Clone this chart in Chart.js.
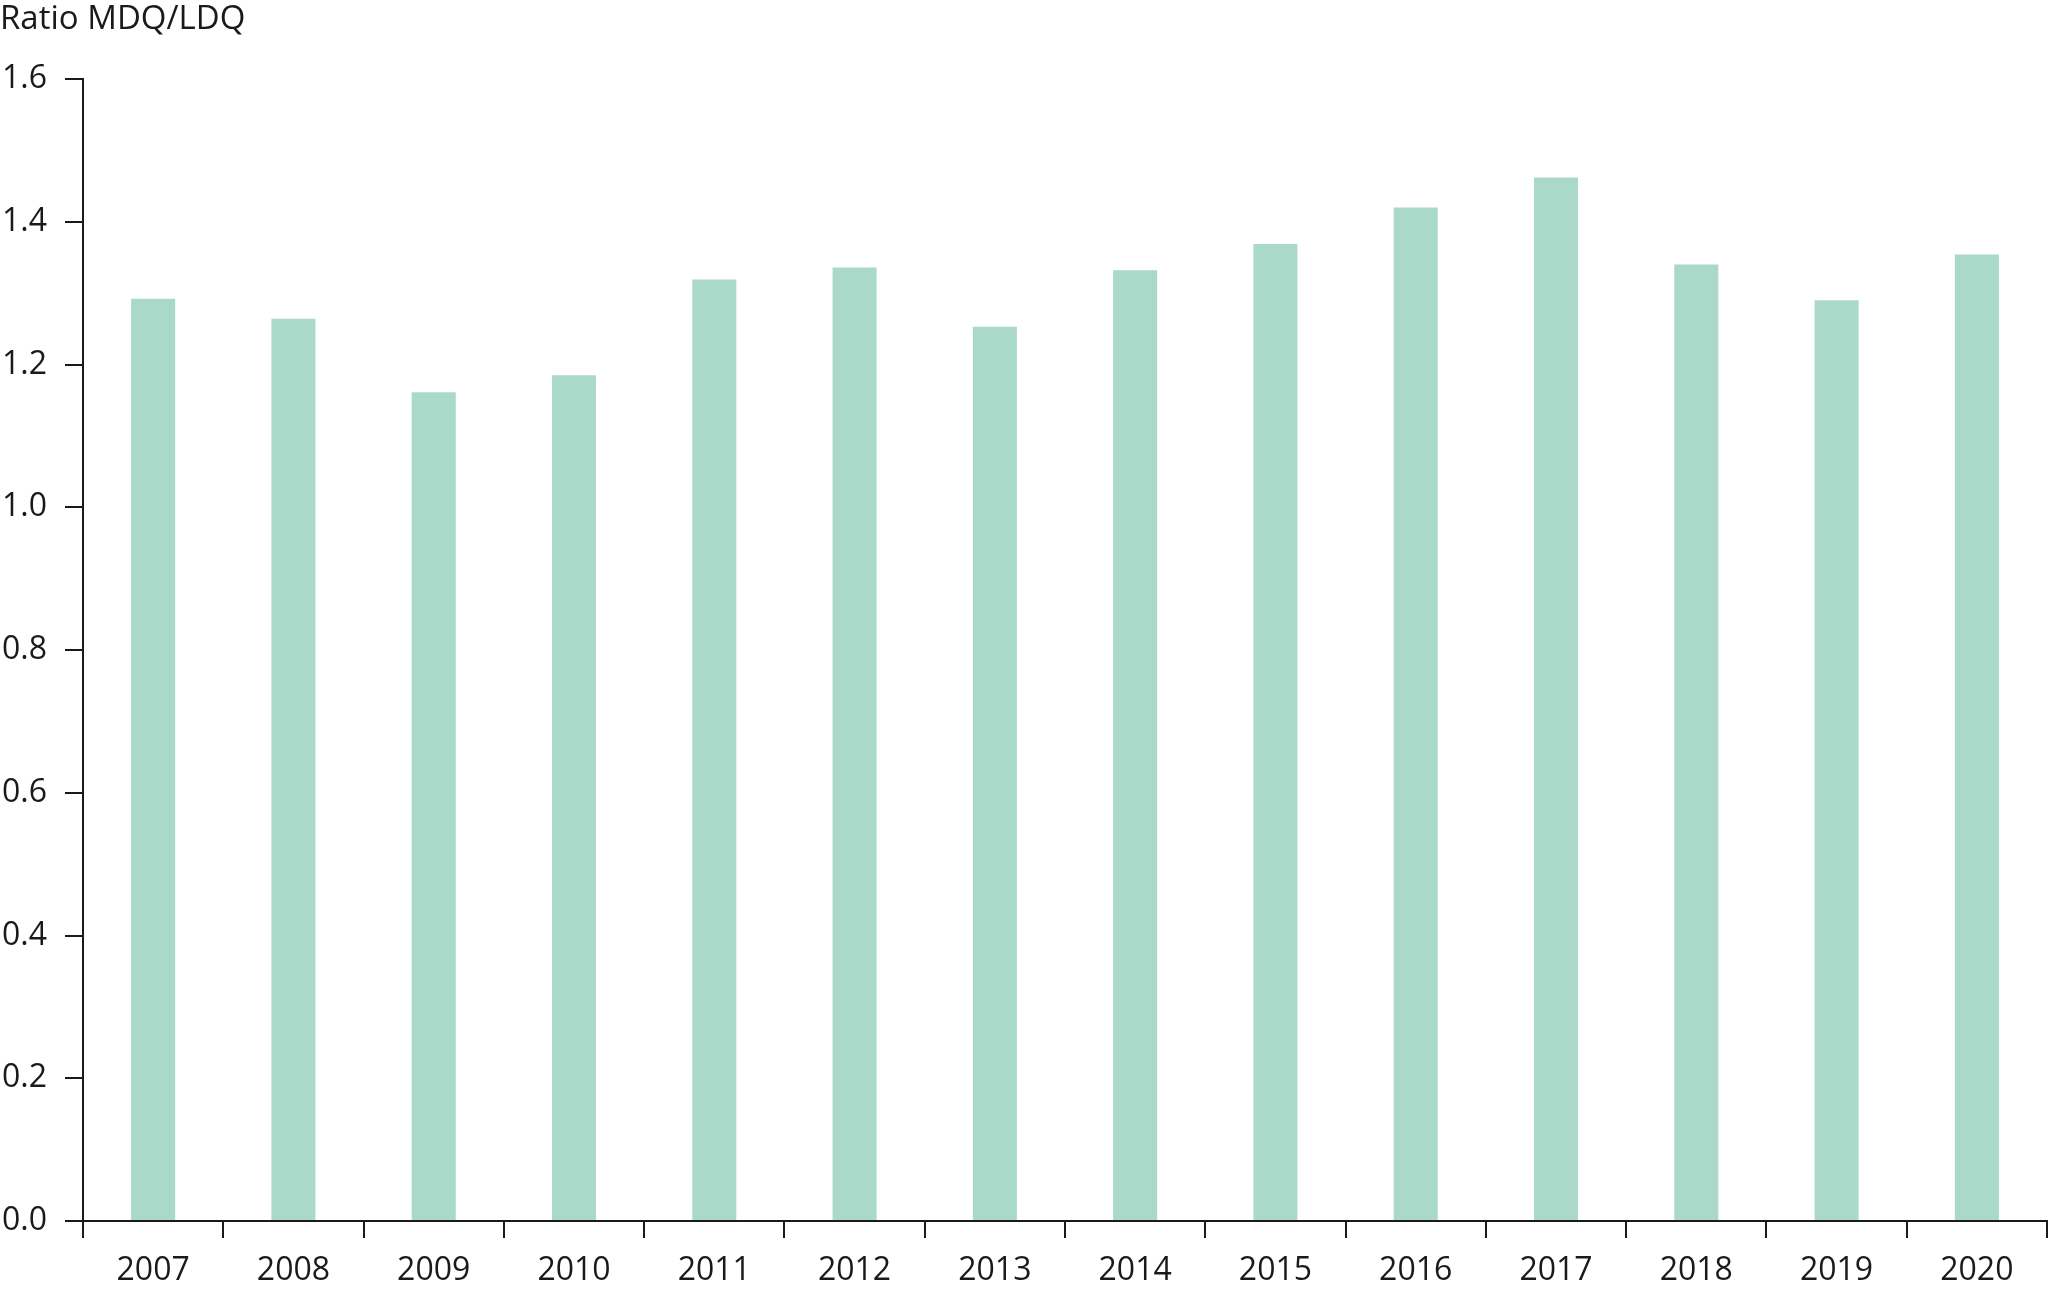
<!DOCTYPE html>
<html>
<head>
<meta charset="utf-8">
<script src="https://cdn.jsdelivr.net/npm/chart.js@4"></script>
<style>
  html, body { margin: 0; padding: 0; background: #fff; }
  canvas { display: block; }
</style>
</head>
<body>
<canvas id="chart" width="2048" height="1290"></canvas>
<script>
// Données
const years = ["2007", "2008", "2009", "2010", "2011", "2012", "2013", "2014", "2015", "2016", "2017", "2018", "2019", "2020"];
const ratio = [1.292, 1.264, 1.161, 1.185, 1.319, 1.336, 1.253, 1.332, 1.369, 1.420, 1.462, 1.340, 1.290, 1.354];
const yTicks = [0, 0.2, 0.4, 0.6, 0.8, 1.0, 1.2, 1.4, 1.6];
const axisTitle = "Ratio MDQ/LDQ";

const FONT = "'Open Sans', 'Noto Sans', sans-serif";
const INK = "#1a1a1a";

// Titre de l'axe, en haut à gauche
const titlePlugin = {
  id: "axisTitle",
  afterDraw(chart) {
    const ctx = chart.ctx;
    ctx.save();
    ctx.font = "33px " + FONT;
    ctx.fillStyle = INK;
    ctx.textAlign = "left";
    ctx.textBaseline = "alphabetic";
    ctx.fillText(axisTitle, 0, 29);
    ctx.restore();
  }
};

new Chart(document.getElementById("chart"), {
  type: "bar",
  data: {
    labels: years,
    datasets: [{
      data: ratio,
      backgroundColor: "#abd9c9",
      borderWidth: 0,
      categoryPercentage: 1,
      barPercentage: 0.314
    }]
  },
  options: {
    responsive: false,
    animation: false,
    layout: { padding: { top: 79, right: 1, left: 0, bottom: 0 } },
    plugins: { legend: { display: false }, tooltip: { enabled: false } },
    scales: {
      x: {
        offset: true,
        grid: { offset: true, drawOnChartArea: false, drawTicks: true, tickLength: 17, color: INK, lineWidth: 2 },
        border: { display: true, color: INK, width: 2 },
        ticks: { color: INK, font: { family: FONT, size: 32 }, padding: 14, maxRotation: 0 },
        afterFit(scale) { scale.height = 69; }
      },
      y: {
        min: 0,
        max: 1.6,
        afterBuildTicks(scale) { scale.ticks = yTicks.map(v => ({ value: v })); },
        grid: { drawOnChartArea: false, drawTicks: true, tickLength: 18, color: INK, lineWidth: 2 },
        border: { display: true, color: INK, width: 2 },
        ticks: {
          color: INK,
          font: { family: FONT, size: 32 },
          padding: 18,
          callback: v => v.toFixed(1)
        },
        afterFit(scale) { scale.width = 83; }
      }
    }
  },
  plugins: [titlePlugin]
});
</script>
</body>
</html>
